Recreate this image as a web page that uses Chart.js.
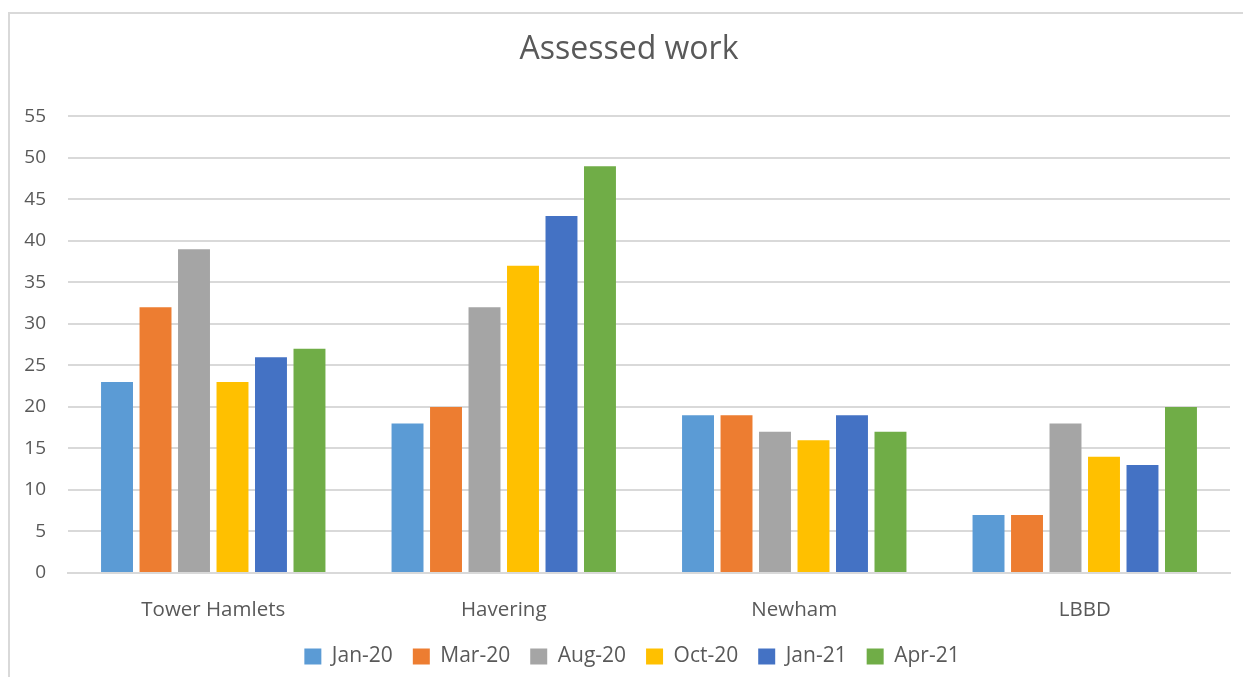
<!DOCTYPE html>
<html>
<head>
<meta charset="utf-8">
<script src="https://cdn.jsdelivr.net/npm/chart.js@4"></script>
<style>
  html, body { margin: 0; padding: 0; background: #fff; overflow: hidden; }
  #frame {
    position: absolute; left: 8px; top: 12px; width: 1300px; height: 700px;
    border: 2px solid #d9d9d9; box-sizing: border-box;
  }
  #wrap { position: absolute; left: 0; top: 0; width: 1243px; height: 677px; }
</style>
</head>
<body>
<div id="frame"></div>
<div id="wrap"><canvas id="chart" width="1243" height="677"></canvas></div>
<script>
const categories = ["Tower Hamlets", "Havering", "Newham", "LBBD"];
const seriesNames = ["Jan-20", "Mar-20", "Aug-20", "Oct-20", "Jan-21", "Apr-21"];
const jan20 = [23, 18, 19, 7];
const mar20 = [32, 20, 19, 7];
const aug20 = [39, 32, 17, 18];
const oct20 = [23, 37, 16, 14];
const jan21 = [26, 43, 19, 13];
const apr21 = [27, 49, 17, 20];
const seriesColors = ["#5b9bd5", "#ed7d31", "#a5a5a5", "#ffc000", "#4472c4", "#70ad47"];

const textColor = "#595959";
const fontFamily = "'Open Sans', 'Liberation Sans', sans-serif";

const seriesValues = [jan20, mar20, aug20, oct20, jan21, apr21];

// title and legend sit a little right of centre in the original
const nudgeBlocks = {
  id: "nudgeBlocks",
  afterLayout(chart) {
    if (chart.legend) chart.legend.left += 34;
    if (chart.titleBlock) chart.titleBlock.left += 28;
  },
};

new Chart(document.getElementById("chart"), {
  type: "bar",
  data: {
    labels: categories,
    datasets: seriesNames.map((name, i) => ({
      label: name,
      data: seriesValues[i],
      backgroundColor: seriesColors[i],
      categoryPercentage: 0.795,
      barPercentage: 0.83,
    })),
  },
  plugins: [nudgeBlocks],
  options: {
    responsive: false,
    animation: false,
    layout: { padding: { left: 0, right: 13, top: 0, bottom: 0 } },
    plugins: {
      title: {
        display: true,
        text: "Assessed work",
        color: textColor,
        font: { family: fontFamily, size: 32, weight: "normal" },
        padding: { top: 31, bottom: 47 },
      },
      legend: {
        position: "bottom",
        labels: {
          color: textColor,
          font: { family: fontFamily, size: 21 },
          boxWidth: 17,
          boxHeight: 16,
          padding: 20,
        },
      },
      tooltip: { enabled: false },
    },
    scales: {
      x: {
        grid: { display: false, drawTicks: false },
        border: { display: true, color: "#d9d9d9", width: 2 },
        ticks: { color: textColor, font: { family: fontFamily, size: 20.5 }, padding: 25 },
        afterFit: (scale) => { scale.height = 53; },
      },
      y: {
        min: 0,
        max: 55,
        ticks: { stepSize: 5, color: textColor, font: { family: fontFamily, size: 19 }, padding: 22 },
        grid: { color: "#d9d9d9", lineWidth: 2, drawTicks: false },
        border: { display: false },
        afterFit: (scale) => { scale.width = 68; },
      },
    },
  },
});
</script>
</body>
</html>
